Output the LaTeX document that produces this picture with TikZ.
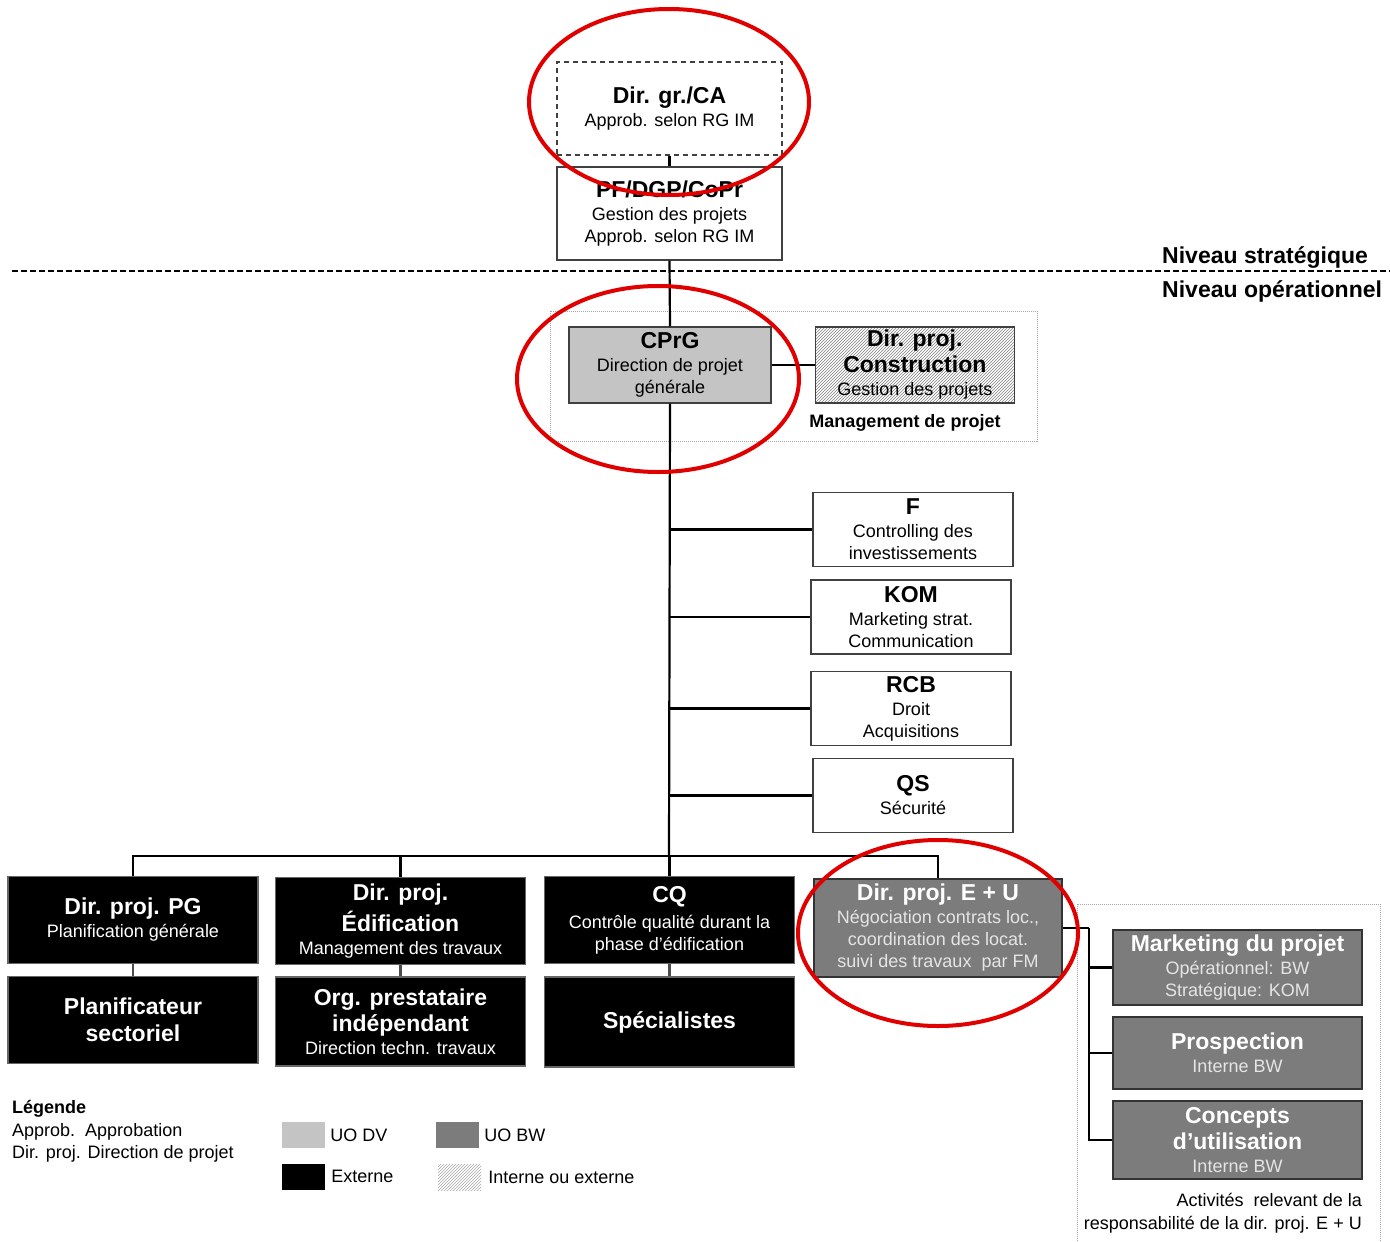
\documentclass[tikz,border=0pt]{standalone}
\usepackage{fontspec}
\setmainfont{Liberation Sans}
\usetikzlibrary{positioning,patterns}
\definecolor{uodv}{HTML}{C4C4C4}
\definecolor{uobw}{HTML}{7C7C7C}
\definecolor{ringred}{HTML}{E00000}
\newcommand\boxttl{\fontsize{23}{27}\selectfont\bfseries}
\newcommand\boxsub{\fontsize{18}{22}\selectfont}
\tikzset{
  orgbox/.style={draw=black!75, line width=1.3pt, align=center, inner sep=0pt, font=\boxsub},
  topbox/.style={orgbox, minimum width=225pt, minimum height=93pt},
  staffbox/.style={orgbox, minimum width=200pt, minimum height=74pt},
  extbox/.style={orgbox, fill=black, text=white, draw=black!60, minimum width=250pt, minimum height=87pt},
  bwbox/.style={orgbox, fill=uobw, text=white!90!black, draw=black!80, minimum width=249pt, minimum height=75pt},
  hatchbox/.style={pattern=north east lines, pattern color=black!50},
  link/.style={draw=black, line width=2.2pt},
  zone/.style={draw=black!35, densely dotted, line width=1pt},
  ring/.style={draw=ringred, line width=4pt},
  swatch/.style={minimum width=43pt, minimum height=26pt, inner sep=0pt},
  legtext/.style={font=\boxsub, inner sep=0pt}
}

\begin{document}
\begin{tikzpicture}[x=1pt, y=-1pt]
\useasboundingbox (0,0) rectangle (1390,1242);

% niveau strategique
\node[topbox, dash pattern=on 5pt off 4pt] (dirca) at (669.5,108.5) {{\boxttl Dir. gr./CA}\\[1pt]Approb. selon RG IM};
\node[topbox] (pf) at (669.5,213.5) {{\boxttl PF/DGP/CoPr}\\[1pt]Gestion des projets\\Approb. selon RG IM};
\draw[line width=1.5pt, dash pattern=on 6pt off 3pt] (12,271) -- (1390,271);
\node[anchor=base west, inner sep=0pt, font=\boxttl] (strat) at (1162,263) {Niveau stratégique};
\node[anchor=base west, inner sep=0pt, font=\boxttl] (oper) at (1162,297) {Niveau opérationnel};

% management de projet
\draw[zone] (550,311) rectangle (1037,441);
\node[orgbox, fill=uodv, minimum width=202pt, minimum height=76pt] (cprg) at (670,365) {{\boxttl CPrG}\\[1pt]Direction de projet\\générale};
\node[orgbox, hatchbox, minimum width=199pt, minimum height=76pt, right=43pt of cprg] (cons) {{\boxttl Dir. proj.}\\[4pt]{\boxttl Construction}\\[1pt]Gestion des projets};
\node[font=\fontsize{18}{20}\selectfont\bfseries, inner sep=0pt] (mgmt) at (905,423) {Management de projet};

% unites d'etat-major
\node[staffbox] (f) at (913,529.5) {{\boxttl F}\\[1pt]Controlling des\\investissements};
\node[staffbox] (kom) at (911,617) {{\boxttl KOM}\\[1pt]Marketing strat.\\Communication};
\node[staffbox] (rcb) at (911,708.5) {{\boxttl RCB}\\[1pt]Droit\\Acquisitions};
\node[staffbox] (qs) at (913,795.5) {{\boxttl QS}\\[1pt]Sécurité};

% directions de projet
\coordinate (bus) at (669,856);
\node[extbox] (pg) at (133,920) {{\boxttl Dir. proj. PG}\\[1pt]Planification générale};
\node[extbox] (edif) at (400.5,921) {{\boxttl Dir. proj.}\\[4pt]{\boxttl Édification}\\[1pt]Management des travaux};
\node[extbox] (cq) at (669.5,920) {{\boxttl CQ}\\[4pt]Contrôle qualité durant la\\phase d'édification};
\node[bwbox, minimum width=248pt, minimum height=98pt] (eu) at (938,928) {{\boxttl\color{white} Dir. proj. E + U}\\[1pt]Négociation contrats loc.,\\coordination des locat.\\suivi des travaux\ \ par FM};
\node[extbox] (plan) at (133,1020) {{\boxttl Planificateur}\\[5pt]{\boxttl sectoriel}};
\node[extbox, minimum height=89pt] (org) at (400.5,1021.5) {{\boxttl Org. prestataire}\\[4pt]{\boxttl indépendant}\\[1pt]Direction techn. travaux};
\node[extbox, minimum height=90pt] (spec) at (669.5,1022) {\boxttl Spécialistes};

% activites E + U
\draw[zone] (1077,904) rectangle (1380,1260);
\node[bwbox] (mkt) at (1237.5,967.5) {{\boxttl\color{white} Marketing du projet}\\[1pt]Opérationnel: BW\\Stratégique: KOM};
\node[bwbox, minimum height=72pt] (pros) at (1237.5,1053) {{\boxttl\color{white} Prospection}\\[1pt]Interne BW};
\node[bwbox, minimum height=78pt] (conc) at (1237.5,1140) {{\boxttl\color{white} Concepts}\\[4pt]{\boxttl\color{white} d'utilisation}\\[1pt]Interne BW};
\node[legtext, anchor=base east] (act1) at (1362,1206) {Activités\ \ relevant de la};
\node[legtext, anchor=base east] (act2) at (1362,1229) {responsabilité de la dir. proj. E + U};

% liaisons
\draw[link] (dirca.south) -- (pf.north);
\draw[link] (pf.south) -- (cprg.north);
\draw[link] (cprg.east) -- (cons.west);
\draw[link] (cprg.south) -- (bus);
\foreach \s in {f,kom,rcb,qs}
  \draw[link] (cprg.south |- \s.west) -- (\s.west);
\draw[link] (pg.north) -- (pg.north |- bus) -- (eu.north |- bus) -- (eu.north);
\draw[link] (edif.north) -- (edif.north |- bus);
\draw[link] (cq.north) -- (cq.north |- bus);
\draw[link, draw=black!70] (pg.south) -- (plan.north);
\draw[link, draw=black!70] (edif.south) -- (org.north);
\draw[link, draw=black!70] (cq.south) -- (spec.north);
\draw[link] (eu.east) -- ++(26,0) coordinate (eutap);
\foreach \s in {mkt,pros,conc}
  \draw[link] (eutap) |- (\s.west);

% legende
\node[legtext, anchor=base west, font=\boxsub\bfseries] (leg) at (12,1113) {Légende};
\node[legtext, anchor=base west] (leg1) at (12,1136) {Approb.\ \ Approbation};
\node[legtext, anchor=base west] (leg2) at (12,1158) {Dir. proj. Direction de projet};
\node[swatch, fill=uodv] (swdv) at (303.5,1135) {};
\node[legtext, right=5pt of swdv] (lbdv) {UO DV};
\node[swatch, fill=black] (swext) at (303.5,1176.5) {};
\node[legtext, right=6pt of swext] (lbext) {Externe};
\node[swatch, fill=uobw] (swbw) at (457.5,1135) {};
\node[legtext, right=5pt of swbw] (lbbw) {UO BW};
\node[swatch, hatchbox, pattern color=black!35] (swhatch) at (459.5,1177) {};
\node[legtext, right=7pt of swhatch] (lbhatch) {Interne ou externe};

% anneaux rouges
\draw[ring] (669,102) ellipse [x radius=140pt, y radius=93pt];
\draw[ring] (658,379) ellipse [x radius=141pt, y radius=93pt];
\draw[ring] (938,933) ellipse [x radius=140pt, y radius=93pt];
\end{tikzpicture}
\end{document}
